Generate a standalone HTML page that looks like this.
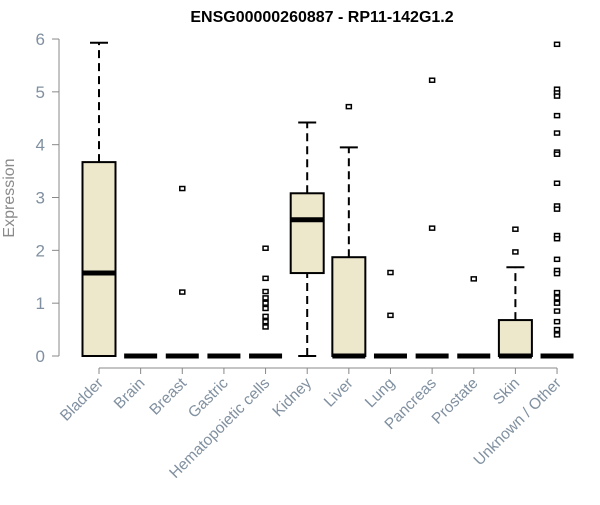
<!DOCTYPE html>
<html><head><meta charset="utf-8"><style>
body{margin:0;background:#fff}
svg{font-family:"Liberation Sans",Arial,sans-serif}
</style></head><body>
<svg id="c" width="600" height="500"></svg>
<script>
const categories=["Bladder","Brain","Breast","Gastric","Hematopoietic cells","Kidney","Liver","Lung","Pancreas","Prostate","Skin","Unknown / Other"];
const lowWhisker=[0,0,0,0,0,0,0,0,0,0,0,0];
const q1=[0,0,0,0,0,1.57,0,0,0,0,0,0];
const medians=[1.57,0,0,0,0,2.58,0,0,0,0,0,0];
const q3=[3.67,0,0,0,0,3.08,1.87,0,0,0,0.68,0];
const highWhisker=[5.93,0,0,0,0,4.42,3.95,0,0,0,1.68,0];
const outliers=[[],[],[3.17,1.21],[],[2.04,1.47,1.22,1.1,1.0,0.9,0.75,0.65,0.55],[],[4.72],[1.58,0.77],[5.22,2.42],[1.46],[2.40,1.97],[5.9,5.05,4.98,4.92,4.55,4.22,3.86,3.82,3.27,2.84,2.78,2.28,2.22,1.83,1.62,1.56,1.2,1.1,1.0,0.85,0.65,0.5,0.4]];
const yTicks=[0,1,2,3,4,5,6];
const NS="http://www.w3.org/2000/svg";
const svg=document.getElementById('c');
const y=v=>356-v*52.83;
const x=i=>99+i*41.64;
const hw=16.5;
function mk(t,a,p){const e=document.createElementNS(NS,t);for(const k in a)e.setAttribute(k,a[k]);(p||svg).appendChild(e);return e;}
let t=mk('text',{x:322,y:22,'text-anchor':'middle','font-size':16,'font-weight':'bold',fill:'#000'});t.textContent="ENSG00000260887 - RP11-142G1.2";


let ya=mk('line',{x1:59,x2:59,y1:y(0),y2:y(6),stroke:'#888'});


yTicks.forEach(v=>{
 mk('line',{x1:52,x2:59,y1:y(v),y2:y(v),stroke:'#888'});
 const l=mk('text',{x:45,y:y(v)+6,'text-anchor':'end','font-size':17,fill:'#8090a0'});l.textContent=v;
 
 
});
let yt=mk('text',{x:14,y:198,'text-anchor':'middle','font-size':16,fill:'#8a8a8a',transform:'rotate(-90 14 198)'});yt.textContent="Expression";


let xa=mk('line',{x1:x(0),x2:x(11),y1:368,y2:368,stroke:'#888'});


categories.forEach((c,i)=>{
 const cx=x(i);
 mk('line',{x1:cx,x2:cx,y1:368,y2:374,stroke:'#888'});
 const l=mk('text',{x:cx+5,y:384,'text-anchor':'end','font-size':15.5,fill:'#8090a0',transform:`rotate(-45 ${cx+5} 384)`});l.textContent=c;
 
 
 const g=mk('g',{});
 
 
 if(highWhisker[i]>q3[i]){
  mk('line',{x1:cx,x2:cx,y1:y(q3[i]),y2:y(highWhisker[i]),stroke:'#000','stroke-width':2,'stroke-dasharray':'8,5'},g);
  mk('line',{x1:cx-9,x2:cx+9,y1:y(highWhisker[i]),y2:y(highWhisker[i]),stroke:'#000','stroke-width':2},g);
 }
 if(q1[i]>lowWhisker[i]){
  mk('line',{x1:cx,x2:cx,y1:y(lowWhisker[i]),y2:y(q1[i]),stroke:'#000','stroke-width':2,'stroke-dasharray':'8,5'},g);
  mk('line',{x1:cx-9,x2:cx+9,y1:y(lowWhisker[i]),y2:y(lowWhisker[i]),stroke:'#000','stroke-width':2},g);
 }
 if(q3[i]>q1[i]) mk('rect',{x:cx-hw,y:y(q3[i]),width:2*hw,height:y(q1[i])-y(q3[i]),fill:'#ede7cc',stroke:'#000','stroke-width':2},g);
 mk('line',{x1:cx-hw,x2:cx+hw,y1:y(medians[i]),y2:y(medians[i]),stroke:'#000','stroke-width':5},g);
 outliers[i].forEach(v=>{
  const p=mk('rect',{x:cx-2.5,y:y(v)-2,width:5,height:4,fill:'#fff',stroke:'#000','stroke-width':1.5},g);
  
  
 });
});
</script>
</body></html>
